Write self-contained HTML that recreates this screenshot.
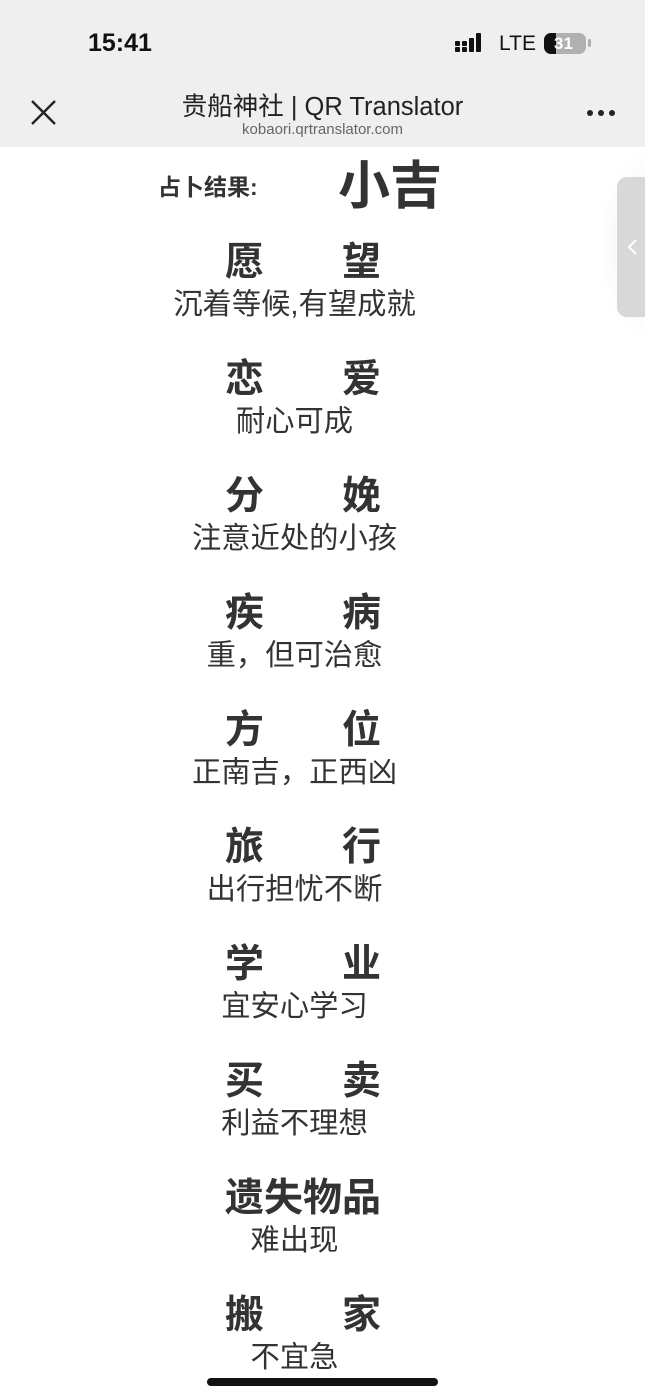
<!DOCTYPE html>
<html><head><meta charset="utf-8"><style>
html,body{margin:0;padding:0;width:645px;height:1398px;overflow:hidden;background:#fff;font-family:"Liberation Sans","Noto Sans CJK SC",sans-serif;color:#333;position:relative}
.a{position:absolute;white-space:nowrap}
.h{position:absolute;left:0;top:0;width:645px;height:147px;background:#efefef}
.t{font-size:39px;font-weight:bold;line-height:39px;color:#333}
.s{font-size:29.3px;line-height:30px;color:#333;width:645px;left:-28px;text-align:center}
</style></head><body>
<div class="h"></div>
<div class="a" style="left:88px;top:29px;font-size:25px;font-weight:bold;color:#111">15:41</div>
<div class="a" style="left:455px;top:33px;width:34px;height:20px">
<svg width="34" height="20"><g fill="#111"><rect x="0" y="8" width="5" height="5" rx="1"/><rect x="0" y="14" width="5" height="5" rx="1"/><rect x="7" y="8" width="5" height="5" rx="1"/><rect x="7" y="14" width="5" height="5" rx="1"/><rect x="14" y="5" width="5" height="14" rx="1"/><rect x="21" y="0" width="5" height="19" rx="1"/></g></svg></div>
<div class="a" style="left:499px;top:32px;font-size:21px;color:#111">LTE</div>
<div class="a" style="left:544px;top:33px;width:42px;height:21px;border-radius:7px;background:#b0b0b0;overflow:hidden"><div style="width:12px;height:21px;background:#111"></div><div class="a" style="left:10px;top:0;font-size:17px;font-weight:bold;color:#fff;line-height:21px">31</div></div>
<div class="a" style="left:588px;top:39px;width:3px;height:8px;background:#b0b0b0;border-radius:2px"></div>
<svg class="a" style="left:30px;top:99px" width="27" height="27"><path d="M2 2L25 25M25 2L2 25" stroke="#222" stroke-width="2.4"/></svg>
<div class="a" style="left:0;width:645px;text-align:center;top:86px;font-size:25.5px;color:#222">贵船神社 | QR Translator</div>
<div class="a" style="left:0;width:645px;text-align:center;top:121px;font-size:15px;color:#666">kobaori.qrtranslator.com</div>
<svg class="a" style="left:586px;top:108px" width="32" height="10"><g fill="#222"><circle cx="4" cy="5" r="3"/><circle cx="15" cy="5" r="3"/><circle cx="26" cy="5" r="3"/></g></svg>
<div class="a" style="left:596px;top:150px;width:49px;height:190px;background:radial-gradient(ellipse at right,rgba(0,0,0,0.06),rgba(0,0,0,0) 70%)"></div>
<div class="a" style="left:617px;top:177px;width:40px;height:140px;background:#d8d8d8;border-radius:10px"></div>
<svg class="a" style="left:626px;top:238px" width="12" height="18"><path d="M10 2L3 9L10 16" stroke="#fff" stroke-width="2" fill="none"/></svg>
<div class="a" style="left:158px;top:168px;font-size:23px;font-weight:bold;color:#333">占卜结果:</div>
<div class="a" style="left:338px;top:144px;font-size:52px;font-weight:bold;color:#333">小吉</div>

<div class="a t" style="left:225px;top:243px">愿</div><div class="a t" style="left:342px;top:243px">望</div>
<div class="a s" style="top:290px">沉着等候,有望成就</div>
<div class="a t" style="left:225px;top:360px">恋</div><div class="a t" style="left:342px;top:360px">爱</div>
<div class="a s" style="top:407px">耐心可成</div>
<div class="a t" style="left:225px;top:477px">分</div><div class="a t" style="left:342px;top:477px">娩</div>
<div class="a s" style="top:524px">注意近处的小孩</div>
<div class="a t" style="left:225px;top:594px">疾</div><div class="a t" style="left:342px;top:594px">病</div>
<div class="a s" style="top:641px">重，但可治愈</div>
<div class="a t" style="left:225px;top:711px">方</div><div class="a t" style="left:342px;top:711px">位</div>
<div class="a s" style="top:758px">正南吉，正西凶</div>
<div class="a t" style="left:225px;top:828px">旅</div><div class="a t" style="left:342px;top:828px">行</div>
<div class="a s" style="top:875px">出行担忧不断</div>
<div class="a t" style="left:225px;top:945px">学</div><div class="a t" style="left:342px;top:945px">业</div>
<div class="a s" style="top:992px">宜安心学习</div>
<div class="a t" style="left:225px;top:1062px">买</div><div class="a t" style="left:342px;top:1062px">卖</div>
<div class="a s" style="top:1109px">利益不理想</div>
<div class="a t" style="left:225px;top:1179px">遗失物品</div>
<div class="a s" style="top:1226px">难出现</div>
<div class="a t" style="left:225px;top:1296px">搬</div><div class="a t" style="left:342px;top:1296px">家</div>
<div class="a s" style="top:1343px">不宜急</div>
<div class="a" style="left:207px;top:1378px;width:231px;height:8px;border-radius:4px;background:#111"></div>
</body></html>
